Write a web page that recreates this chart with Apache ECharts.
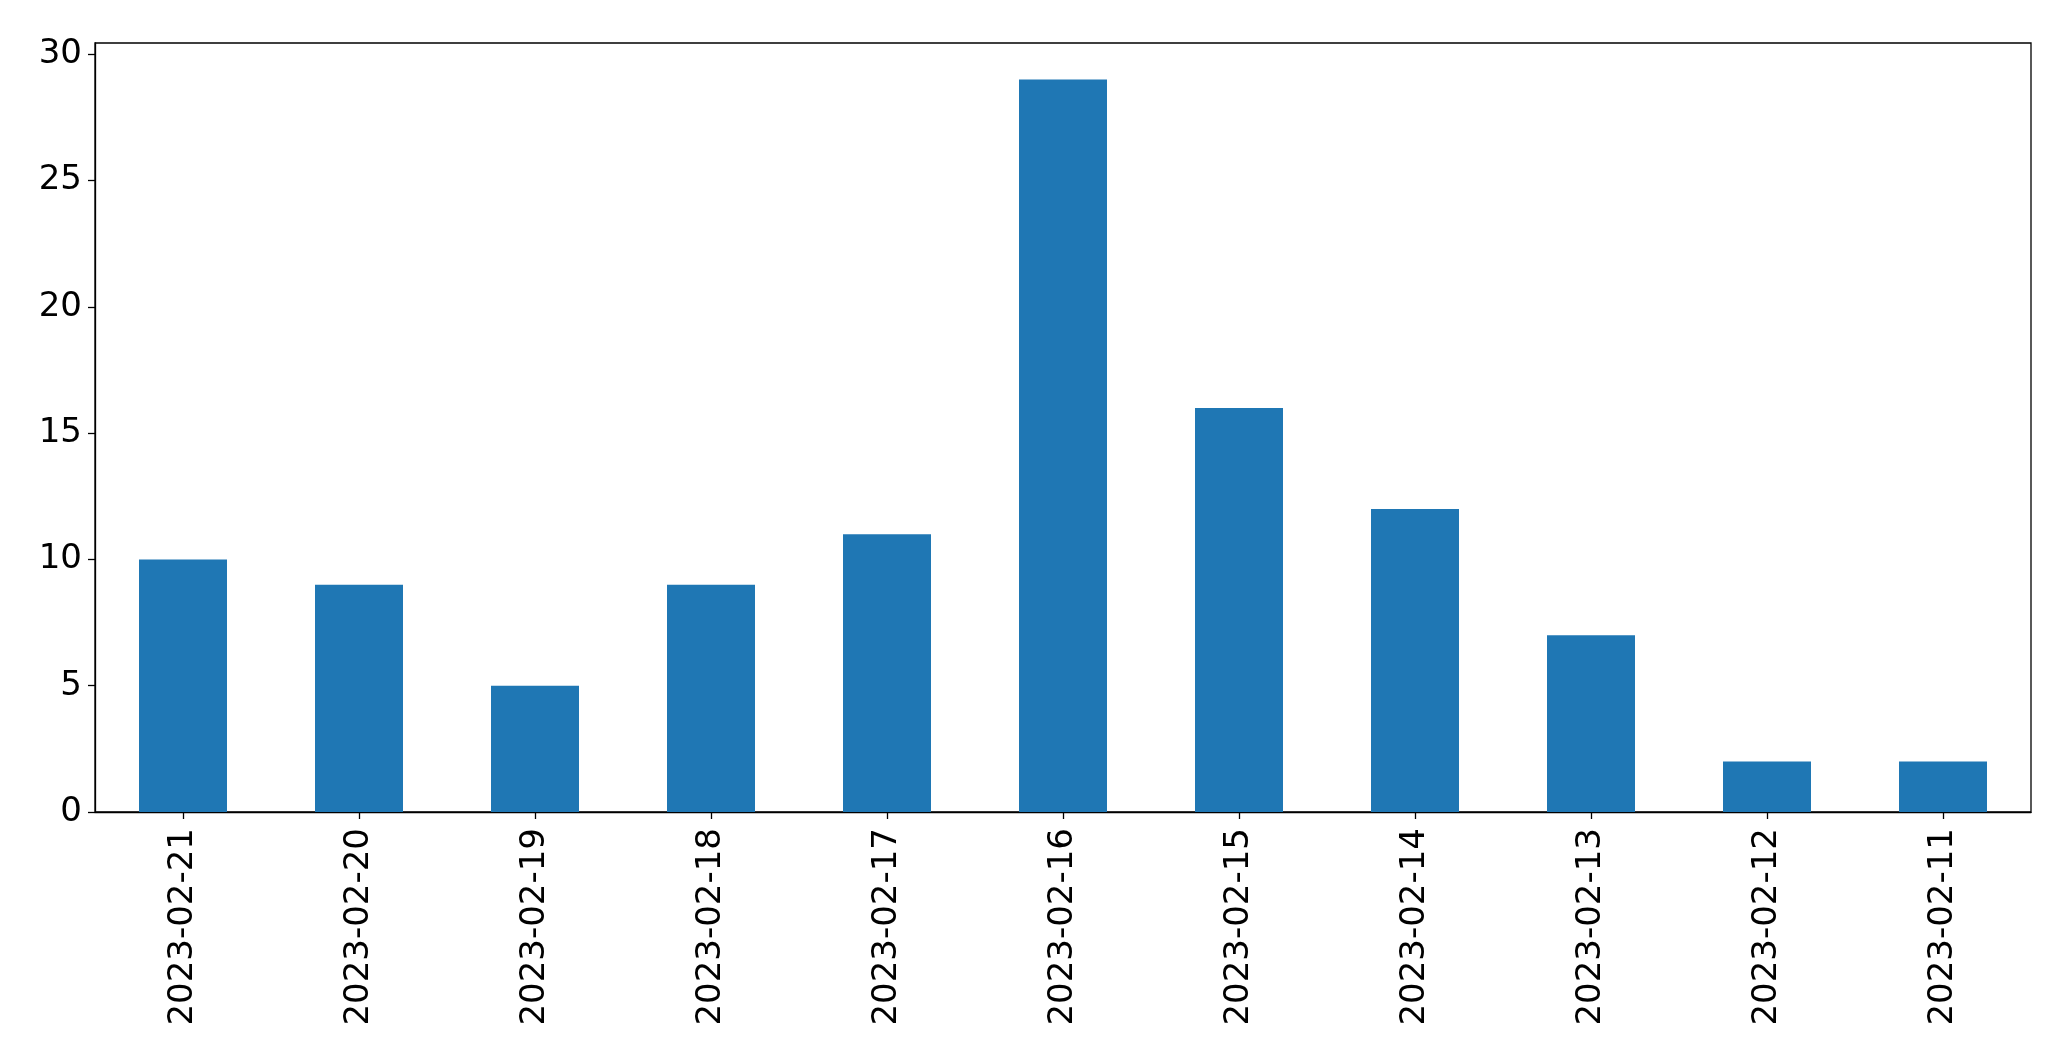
<!DOCTYPE html>
<html>
<head>
<meta charset="utf-8">
<script src="https://cdn.jsdelivr.net/npm/echarts@6/dist/echarts.min.js"></script>
<style>
html,body{margin:0;padding:0;background:#fff;}
#chart{width:2071px;height:1064px;}
</style>
</head>
<body>
<div id="chart"></div>
<script>
const categories = ["2023-02-21","2023-02-20","2023-02-19","2023-02-18","2023-02-17","2023-02-16","2023-02-15","2023-02-14","2023-02-13","2023-02-12","2023-02-11"];
const values = [10, 9, 5, 9, 11, 29, 16, 12, 7, 2, 2];
const yTicks = [0, 5, 10, 15, 20, 25, 30];

const font = "DejaVu Sans";
const chart = echarts.init(document.getElementById('chart'), null, {renderer: 'canvas'});
chart.setOption({
  animation: false,
  backgroundColor: '#ffffff',
  grid: {left: 95, right: 40, top: 43, bottom: 252, show: true, borderColor: '#000', borderWidth: 1.3, backgroundColor: 'transparent'},
  xAxis: {
    type: 'category',
    data: categories,
    boundaryGap: true,
    axisLine: {show: true, lineStyle: {color: '#000', width: 1.3}},
    axisTick: {show: true, alignWithLabel: true, length: 7, lineStyle: {color: '#000', width: 1.3}},
    axisLabel: {rotate: 90, margin: 16, color: '#000', fontFamily: font, fontSize: 34, interval: 0}
  },
  yAxis: {
    type: 'value',
    min: 0,
    max: 30.45,
    interval: 5,
    splitLine: {show: false},
    axisLine: {show: true, lineStyle: {color: '#000', width: 1.3}},
    axisTick: {show: true, length: 7, lineStyle: {color: '#000', width: 1.3}, customValues: yTicks},
    axisLabel: {margin: 13, color: '#000', fontFamily: font, fontSize: 34, customValues: yTicks}
  },
  series: [{
    type: 'bar',
    data: values,
    barWidth: '50%',
    itemStyle: {color: '#1f77b4'}
  }]
});
</script>
</body>
</html>
